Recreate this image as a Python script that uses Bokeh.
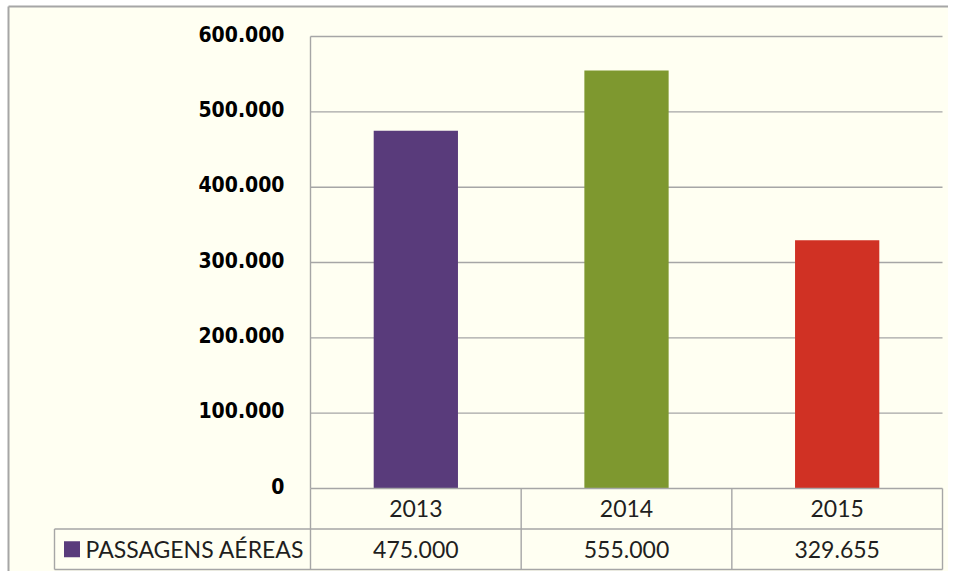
from bokeh.plotting import figure
from bokeh.models import Range1d, ColumnDataSource
from bokeh.core.properties import value
from bokeh.embed import file_html
from bokeh.resources import INLINE

# ---- data ----
years = ["2013", "2014", "2015"]
passagens = [475000, 555000, 329655]
bar_colors = ["#593B7B", "#7E982F", "#D03124"]
series_name = "PASSAGENS AÉREAS"
y_ticks = [0, 100000, 200000, 300000, 400000, 500000, 600000]


def fmt(v):
    return f"{v:,}".replace(",", ".")


# ---- layout constants (pixels in the canvas) ----
W, H = 948, 571
X0_PX = 310.0          # pixel x of category axis start (x = 0)
CAT_PX = 210.67        # pixel width per category
Y0_PX = 488.0          # pixel y of value 0
PX_PER_100K = 75.33
ROW_PX = 40.5
BORDER_X_PX = 8.0
BORDER_Y_PX = 6.0

x_start = -X0_PX / CAT_PX
x_end = (W - X0_PX) / CAT_PX
y_end = Y0_PX / PX_PER_100K * 100000
y_start = -(H - Y0_PX) / PX_PER_100K * 100000
r_end = Y0_PX / ROW_PX
r_start = -(H - Y0_PX) / ROW_PX

BG = "#FFFFF2"
LINE = "#A6A6A6"

p = figure(width=W, height=H, output_backend="svg", toolbar_location=None,
           x_range=Range1d(x_start, x_end), y_range=Range1d(y_start, y_end),
           x_axis_location=None, y_axis_location=None,
           min_border=0, min_border_left=0, min_border_right=0,
           min_border_top=0, min_border_bottom=0)
p.extra_y_ranges = {"tbl": Range1d(r_start, r_end)}
p.background_fill_color = "#FFFFFF"
p.border_fill_color = "#FFFFFF"
p.outline_line_color = None
p.grid.visible = False

bx = (BORDER_X_PX - X0_PX) / CAT_PX
by = (Y0_PX - BORDER_Y_PX) / PX_PER_100K * 100000
# chart area background
p.quad(left=[bx], right=[x_end], bottom=[y_start], top=[by],
       fill_color=BG, line_color=None)

n = len(years)
xc = [i + 0.5 for i in range(n)]

# gridlines
p.segment(x0=[0] * (len(y_ticks) - 1), x1=[n] * (len(y_ticks) - 1),
          y0=y_ticks[1:], y1=y_ticks[1:], line_color=LINE, line_width=1.4)
# value axis line
p.segment(x0=[0], x1=[0], y0=[0], y1=[max(y_ticks)], line_color=LINE, line_width=1.4)

# bars
src = ColumnDataSource(dict(x=xc, top=passagens, color=bar_colors))
p.vbar(x="x", top="top", bottom=0, width=0.4, fill_color="color",
       line_color=None, source=src)

# y tick labels
p.text(x=[0] * len(y_ticks), y=y_ticks, text=[fmt(v) for v in y_ticks],
       x_offset=-26, y_offset=-3, text_align="right", text_baseline="middle",
       text_font=value("DejaVu Sans Condensed"), text_font_style="bold",
       text_font_size="21px", text_color="#000000")

# ---- data table ----
leg_x = -256 / CAT_PX
# horizontal lines
p.segment(x0=[0, leg_x, leg_x], x1=[n, n, n], y0=[0, -1, -2], y1=[0, -1, -2],
          line_color=LINE, line_width=1.4, y_range_name="tbl")
# vertical lines
vx = list(range(n + 1))
p.segment(x0=vx, x1=vx, y0=[0] * len(vx), y1=[-2] * len(vx),
          line_color=LINE, line_width=1.4, y_range_name="tbl")
p.segment(x0=[leg_x], x1=[leg_x], y0=[-1], y1=[-2],
          line_color=LINE, line_width=1.4, y_range_name="tbl")

TXT = "#1f1f1f"
p.text(x=xc, y=[-0.5] * n, text=years, text_align="center", text_baseline="middle",
       text_font=value("Lato"), text_font_size="23px", text_color=TXT,
       y_range_name="tbl")
p.text(x=xc, y=[-1.5] * n, text=[fmt(v) for v in passagens], text_align="center",
       text_baseline="middle", text_font=value("Lato"), text_font_size="23px",
       text_color=TXT, y_range_name="tbl")
p.scatter(x=[leg_x + 17.5 / CAT_PX], y=[-1.5], marker="square", size=16,
          fill_color=bar_colors[0], line_color=None, y_range_name="tbl")
p.text(x=[leg_x + 31 / CAT_PX], y=[-1.5], text=[series_name], text_align="left",
       text_baseline="middle", text_font=value("Lato"), text_font_size="23px",
       text_color=TXT, y_range_name="tbl")

# outer chart border (left and top)
p.segment(x0=[bx, bx], x1=[bx, x_end], y0=[y_start, by],
          y1=[by, by], line_color=LINE, line_width=2)

open("out.html", "w").write(file_html(p, INLINE))
